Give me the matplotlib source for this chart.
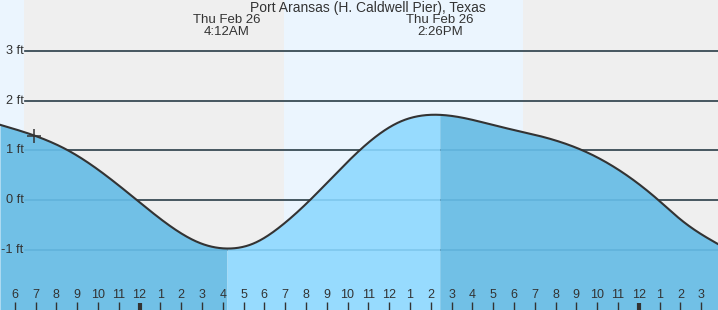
import numpy as np
import matplotlib
matplotlib.use("Agg")
import matplotlib.pyplot as plt
import matplotlib.transforms as mtransforms

plt.rcParams['font.family'] = ['Liberation Sans', 'DejaVu Sans']

# ---- data (hours relative to midnight Thu Feb 26, feet) ----
times = [-6.71, -5.11, -3.34, -0.13, 1.95, 2.91, 4.2, 5.47, 6.76, 8.20,
         10.60, 12.52, 14.433, 15.89, 17.33, 19.26, 21.42, 24.94, 26.0, 27.0, 27.81]
heights = [1.52, 1.31, 0.98, 0.0, -0.66, -0.87, -0.98, -0.88, -0.54, 0.0,
           1.01, 1.58, 1.72, 1.63, 1.48, 1.29, 0.98, 0.0, -0.39, -0.69, -0.89]
extreme_times = [4.2, 14.433]
extreme_labels = ["Thu Feb 26\n4:12AM", "Thu Feb 26\n2:26PM"]
sunset_prev = -5.55
sunrise = 6.95
sunset = 18.44
now_time = -5.07
now_height = 1.30
y_levels = [3, 2, 1, 0, -1]
y_labels = ["3 ft", "2 ft", "1 ft", "0 ft", "-1 ft"]
hour_ticks = list(range(-6, 28))
hour_labels = [str((h % 12) or 12) for h in hour_ticks]
midnights = [0, 24]
title = "Port Aransas (H. Caldwell Pier), Texas"


def spline(x, y, xn):
    """Natural cubic spline through the read values (for drawing a smooth line)."""
    x = np.asarray(x, float); y = np.asarray(y, float); xn = np.asarray(xn, float)
    n = len(x); hh = np.diff(x)
    A = np.zeros((n, n)); r = np.zeros(n)
    A[0, 0] = A[-1, -1] = 1
    for i in range(1, n - 1):
        A[i, i - 1] = hh[i - 1]; A[i, i] = 2 * (hh[i - 1] + hh[i]); A[i, i + 1] = hh[i]
        r[i] = 6 * ((y[i + 1] - y[i]) / hh[i] - (y[i] - y[i - 1]) / hh[i - 1])
    M = np.linalg.solve(A, r)
    idx = np.clip(np.searchsorted(x, xn) - 1, 0, n - 2)
    a = x[idx]; b = x[idx + 1]; hi = hh[idx]
    return (M[idx] * (b - xn) ** 3 / (6 * hi) + M[idx + 1] * (xn - a) ** 3 / (6 * hi)
            + (y[idx] / hi - M[idx] * hi / 6) * (b - xn)
            + (y[idx + 1] / hi - M[idx + 1] * hi / 6) * (xn - a))


W, H = 718, 310
fig = plt.figure(figsize=(W / 100, H / 100), dpi=100)
ax = fig.add_axes([0, 0, 1, 1])
x_left, x_right = -6.707, 27.81
y_bot, y_top = -2.222, 4.040
ax.set_xlim(x_left, x_right)
ax.set_ylim(y_bot, y_top)
ax.axis('off')

day_c = "#ebf5fe"
night_c = "#efefef"
ax.axvspan(x_left, sunset_prev, color=day_c, lw=0, zorder=0)
ax.axvspan(sunset_prev, sunrise, color=night_c, lw=0, zorder=0)
ax.axvspan(sunrise, sunset, color=day_c, lw=0, zorder=0)
ax.axvspan(sunset, x_right, color=night_c, lw=0, zorder=0)

gx = 25 / W
for lv in y_levels:
    ax.axhline(lv, xmin=gx, xmax=1, color="#333333", lw=1.2, zorder=1)

xs = np.linspace(x_left, x_right, 1500)
ys = spline(times, heights, xs)

dark_fill = "#71c0e6"
light_fill = "#97dbfe"
seg_bounds = [x_left] + extreme_times + [x_right]
seg_cols = [dark_fill, light_fill, dark_fill]
for (a, b), c in zip(zip(seg_bounds[:-1], seg_bounds[1:]), seg_cols):
    sel = (xs > a) & (xs < b)
    xx = np.concatenate([[a], xs[sel], [b]])
    yy = spline(times, heights, xx)
    ax.fill_between(xx, y_bot, yy, color=c, lw=0, zorder=2)

for lv in y_levels:
    ax.axhline(lv, xmin=gx, xmax=1, color="#2a7fb0", alpha=0.22, lw=1.2, zorder=3)

ax.plot(xs, ys, color="#333333", lw=1.5, zorder=4)
ax.plot([now_time], [now_height], marker='+', ms=10, mew=1.1, color="#333333", zorder=5)

for lv, lab in zip(y_levels, y_labels):
    ax.text(23.5 / W, lv, lab, transform=ax.get_yaxis_transform(), ha='right', va='center',
            fontsize=9.2, color="#333333", zorder=6)

bt = mtransforms.blended_transform_factory(ax.transData, ax.transAxes)
for h, lab in zip(hour_ticks, hour_labels):
    ax.text(h, 1 - 295.5 / H, lab, transform=bt, ha='center', va='center',
            fontsize=9, color="#333333", zorder=6)
    if h in midnights:
        ax.plot([h, h], [0, 7.5 / H], transform=bt, color="#333333", lw=3, zorder=6,
                solid_capstyle='butt')
    else:
        ax.plot([h, h], [0, 8 / H], transform=bt, color="#333333", lw=1, zorder=6,
                solid_capstyle='butt')

ax.text(368 / W, 1 - 8 / H, title, transform=ax.transAxes, ha='center', va='center',
        fontsize=10, color="#333333", zorder=6)
for t, lab in zip(extreme_times, extreme_labels):
    ax.text(t, 1 - 26 / H, lab, transform=bt, ha='center', va='center',
            fontsize=9.5, color="#333333", linespacing=0.95, zorder=6)

fig.savefig("out.png", dpi=100)
